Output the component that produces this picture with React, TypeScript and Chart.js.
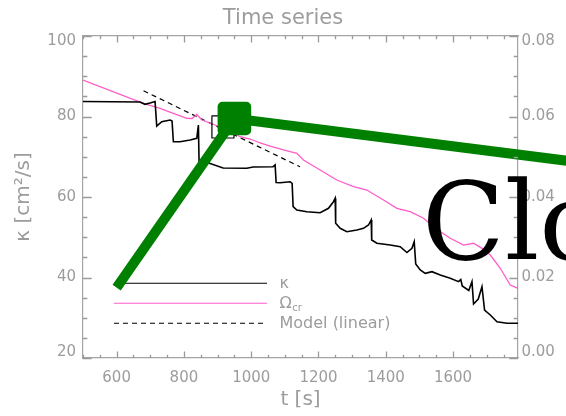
import { useEffect, useRef } from 'react';
import { Chart, registerables } from 'chart.js';

Chart.register(...registerables);

const FONT = 'DejaVu Sans';
const TEXT_GREY = '#9c9c9c';
const AXIS_GREY = '#a4a4a4';
const TICK_COLOR = '#9a9a9a';

// time axis range [s]
const TIME_MIN = 500;
const TIME_MAX = 1793;

// diffusivity kappa [cm^2/s] (left axis)
const kappaTime = [
  500, 669.5, 684.4, 699.3, 714.2, 719.2, 734.1, 758.8, 764.7, 768.6, 788.5, 818.3, 838.2, 843.0,
  845.0, 862.9, 916.4, 986.9, 1005.6, 1065.1, 1071.1, 1074.0, 1085.9, 1115.7, 1121.6, 1124.6,
  1135.6, 1165.4, 1204.9, 1229.6, 1244.5, 1249.6, 1251.0, 1264.4, 1284.3, 1314.1, 1333.7, 1348.6,
  1356.6, 1358.1, 1373.6, 1413.1, 1442.9, 1462.8, 1477.7, 1484.5, 1489.0, 1502.4, 1517.3, 1537.2,
  1561.9, 1591.6, 1616.3, 1622.9, 1627.3, 1646.7, 1656.2, 1660.9, 1674.9, 1685.9, 1693.6, 1710.6,
  1730.5, 1760.3, 1793.0,
];
const kappaValue = [
  83.73, 83.6, 83.03, 83.36, 83.73, 77.64, 78.71, 79.13, 78.88, 73.74, 73.74, 74.16, 74.58, 77.89,
  68.7, 68.77, 67.2, 67.13, 67.45, 67.53, 67.95, 63.6, 63.55, 63.8, 63.4, 57.59,
  56.77, 56.35, 56.1, 57.19, 58.83, 59.68, 53.47, 52.22, 51.38, 51.8, 52.22, 53.04,
  54.29, 49.32, 48.5, 48.08, 47.65, 46.21, 47.25, 48.89, 43.35, 41.86, 41.04, 41.44,
  40.62, 39.8, 38.96, 39.5, 37.89, 36.77, 38.96, 33.42, 34.66, 37.71, 31.93, 30.68,
  29.02, 28.62, 28.62,
];

// critical rotation rate Omega_cr (right axis)
const omegaTime = [
  500, 679.4, 729.0, 768.6, 808.4, 824.2, 838.2, 853.1, 892.6, 937.2, 967.0, 996.7, 1026.5,
  1056.2, 1095.8, 1115.7, 1135.6, 1155.3, 1204.9, 1254.6, 1304.0, 1343.8, 1393.2, 1433.1,
  1472.6, 1512.2, 1547.0, 1591.6, 1631.2, 1660.9, 1685.9, 1710.6, 1740.3, 1770.1, 1793.0,
];
const omegaValue = [
  0.06907, 0.06328, 0.06204, 0.0608, 0.05955, 0.0595, 0.0605, 0.05913, 0.05789, 0.0564, 0.05498,
  0.05441, 0.05342, 0.05267, 0.05168, 0.05125, 0.05086, 0.04919, 0.04671, 0.04422, 0.04256,
  0.04174, 0.03926, 0.03719, 0.03635, 0.03471, 0.03222, 0.02974, 0.02807, 0.0285, 0.02725,
  0.02559, 0.02229, 0.01814, 0.01732,
];

// linear model fit (left axis)
const modelTime = [680, 1145];
const modelValue = [86.4, 67.5];

// hollow square marker
const markerTime = [916];
const markerValue = [77.4];

// green path with its corner marker
const pathTime = [600, 950, 2100];
const pathValue = [37.5, 79.5, 67.3];
const pathMarkerRadius = [0, 16.7, 0];

// axis ticks
const X_MAJOR = 200;
const X_MINOR = 50;
const K_MIN = 20;
const K_MAX = 100;
const K_MAJOR = 20;
const K_MINOR = 5;
const W_MIN = 0;
const W_MAX = 0.08;
const W_MAJOR = 0.02;
const W_MINOR = 0.005;

const TITLE = 'Time series';
const X_TITLE = 't [s]';
const Y_TITLE = 'κ [cm²/s]';
const NOTE_TEXT = 'Close';

const pts = (xs: number[], ys: number[]) => xs.map((x, i) => ({ x, y: ys[i] }));

// Labels at the ends of a vertical axis are pulled inside the frame
function edgeLabel(label: string, value: number, min: number, max: number) {
  const eps = (max - min) * 1e-6;
  if (Math.abs(value - max) < eps) return ['', label];
  if (Math.abs(value - min) < eps) return [label, ''];
  return label;
}

// Inward-pointing major and minor tick marks on all four sides of the frame
function tickValues(min: number, max: number, minor: number, major: number) {
  const out: { v: number; major: boolean }[] = [];
  const ratio = Math.round(major / minor);
  const i0 = Math.ceil(min / minor - 1e-9);
  const i1 = Math.floor(max / minor + 1e-9);
  for (let i = i0; i <= i1; i++) out.push({ v: i * minor, major: i % ratio === 0 });
  return out;
}

const frameTicks = {
  id: 'frameTicks',
  afterDraw(chart: any) {
    const { ctx, chartArea: a, scales } = chart;
    ctx.save();
    ctx.strokeStyle = TICK_COLOR;
    ctx.lineWidth = 1.3;
    ctx.setLineDash([]);
    ctx.beginPath();
    const xs = scales.x;
    tickValues(TIME_MIN, TIME_MAX, X_MINOR, X_MAJOR).forEach(({ v, major }) => {
      const px = Math.round(xs.getPixelForValue(v)) + 0.5;
      const len = major ? 6.4 : 3.2;
      ctx.moveTo(px, a.bottom);
      ctx.lineTo(px, a.bottom - len);
      ctx.moveTo(px, a.top);
      ctx.lineTo(px, a.top + len);
    });
    const yl = scales.y;
    tickValues(K_MIN, K_MAX, K_MINOR, K_MAJOR).forEach(({ v, major }) => {
      const py = Math.round(yl.getPixelForValue(v)) + 0.5;
      ctx.moveTo(a.left, py);
      ctx.lineTo(a.left + (major ? 8.7 : 4.35), py);
    });
    const yr = scales.y2;
    tickValues(W_MIN, W_MAX, W_MINOR, W_MAJOR).forEach(({ v, major }) => {
      const py = Math.round(yr.getPixelForValue(v)) + 0.5;
      ctx.moveTo(a.right, py);
      ctx.lineTo(a.right - (major ? 8.7 : 4.35), py);
    });
    ctx.stroke();
    ctx.restore();
  },
};

const insetLegend = {
  id: 'insetLegend',
  beforeDatasetsDraw(chart: any) {
    const { ctx, chartArea } = chart;
    const x0 = chartArea.left + 31;
    const x1 = x0 + 153;
    let y = chartArea.bottom - 74.7;
    ctx.save();
    chart.data.datasets.forEach((ds: any) => {
      if (!ds.label) return;
      ctx.beginPath();
      ctx.strokeStyle = ds.borderColor;
      ctx.lineWidth = 1.1;
      ctx.setLineDash(ds.borderDash || []);
      ctx.moveTo(x0, y);
      ctx.lineTo(x1, y);
      ctx.stroke();
      ctx.setLineDash([]);
      const [main, sub] = String(ds.label).split('_');
      ctx.fillStyle = TEXT_GREY;
      ctx.textBaseline = 'alphabetic';
      ctx.textAlign = 'left';
      ctx.font = `16px "${FONT}"`;
      const tx = x1 + 12.5;
      ctx.fillText(main, tx, y + 4.5);
      if (sub) {
        const w = ctx.measureText(main).width;
        ctx.font = `10px "${FONT}"`;
        ctx.fillText(sub, tx + w + 0.5, y + 7.5);
      }
      y += 20;
    });
    ctx.restore();
    // rounded joins for the corner marker of the green path
    ctx.lineJoin = 'round';
  },
};

const noteText = {
  id: 'noteText',
  afterDraw(chart: any) {
    const { ctx } = chart;
    ctx.save();
    ctx.font = '108px "DejaVu Serif"';
    ctx.fillStyle = '#000000';
    ctx.textAlign = 'left';
    ctx.textBaseline = 'alphabetic';
    ctx.fillText(NOTE_TEXT, 422, 259);
    ctx.restore();
  },
};

const noGrid = { display: false, drawOnChartArea: false, drawTicks: false };

export default function App() {
  const canvasRef = useRef<HTMLCanvasElement | null>(null);

  useEffect(() => {
    const canvas = canvasRef.current;
    if (!canvas) return;
    const chart = new Chart(canvas, {
      type: 'line',
      data: {
        datasets: [
          {
            label: 'κ',
            data: pts(kappaTime, kappaValue),
            yAxisID: 'y',
            borderColor: '#000000',
            borderWidth: 1.6,
            pointRadius: 0,
            tension: 0,
            order: 2,
          },
          {
            label: 'Ω_cr',
            data: pts(omegaTime, omegaValue),
            yAxisID: 'y2',
            borderColor: '#ff5cc8',
            borderWidth: 1.3,
            pointRadius: 0,
            tension: 0,
            order: 3,
          },
          {
            label: 'Model (linear)',
            data: pts(modelTime, modelValue),
            yAxisID: 'y',
            borderColor: '#000000',
            borderWidth: 1.2,
            borderDash: [5, 4],
            pointRadius: 0,
            tension: 0,
            order: 4,
          },
          {
            data: pts(markerTime, markerValue),
            yAxisID: 'y',
            showLine: false,
            pointStyle: 'rect',
            pointRadius: 15.6,
            pointBorderWidth: 1.2,
            pointBorderColor: '#000000',
            pointBackgroundColor: 'rgba(0,0,0,0)',
            order: 1,
          },
          {
            data: pts(pathTime, pathValue),
            yAxisID: 'y',
            borderColor: '#008000',
            borderWidth: 10,
            pointStyle: 'rect',
            pointRadius: pathMarkerRadius,
            pointBorderWidth: 10,
            pointBorderColor: '#008000',
            pointBackgroundColor: '#008000',
            tension: 0,
            clip: false,
            order: 0,
          },
        ],
      },
      options: {
        responsive: false,
        animation: false,
        layout: { padding: 0 },
        plugins: {
          legend: { display: false },
          tooltip: { enabled: false },
          title: {
            display: true,
            text: TITLE,
            color: TEXT_GREY,
            font: { family: FONT, size: 21, weight: 'normal' },
            padding: { top: 6, bottom: 4.8 },
          },
        },
        scales: {
          x: {
            type: 'linear',
            position: 'bottom',
            min: TIME_MIN,
            max: TIME_MAX,
            grid: noGrid,
            border: { color: AXIS_GREY, width: 1.2 },
            ticks: {
              stepSize: X_MAJOR,
              includeBounds: false,
              autoSkip: false,
              maxRotation: 0,
              color: TEXT_GREY,
              font: { family: FONT, size: 15 },
              padding: 11.3,
              callback: (v: any) => String(v),
            },
            title: {
              display: true,
              text: X_TITLE,
              color: TEXT_GREY,
              font: { family: FONT, size: 20 },
              padding: { top: 0, bottom: 4 },
            },
            afterFit: (s: any) => {
              s.height = 58;
            },
          },
          xTop: {
            type: 'linear',
            position: 'top',
            min: TIME_MIN,
            max: TIME_MAX,
            grid: noGrid,
            border: { color: AXIS_GREY, width: 1.2 },
            ticks: { display: false },
            afterFit: (s: any) => {
              s.height = 0;
            },
          },
          y: {
            type: 'linear',
            position: 'left',
            min: K_MIN,
            max: K_MAX,
            grid: noGrid,
            border: { color: AXIS_GREY, width: 1.2 },
            ticks: {
              stepSize: K_MAJOR,
              autoSkip: false,
              color: TEXT_GREY,
              font: { family: FONT, size: 15, lineHeight: '11px' },
              padding: 7,
              callback: (v: any) => edgeLabel(String(v), Number(v), K_MIN, K_MAX),
            },
            title: {
              display: true,
              text: Y_TITLE,
              color: TEXT_GREY,
              font: { family: FONT, size: 20 },
              padding: { top: 12, bottom: 0 },
            },
            afterFit: (s: any) => {
              s.width = 83;
            },
          },
          y2: {
            type: 'linear',
            position: 'right',
            min: W_MIN,
            max: W_MAX,
            grid: noGrid,
            border: { color: AXIS_GREY, width: 1.2 },
            ticks: {
              stepSize: W_MAJOR,
              autoSkip: false,
              color: TEXT_GREY,
              font: { family: FONT, size: 15, lineHeight: '11px' },
              padding: 3.5,
              callback: (v: any) => edgeLabel(Number(v).toFixed(2), Number(v), W_MIN, W_MAX),
            },
            afterFit: (s: any) => {
              s.width = 48;
            },
          },
        },
      } as any,
      plugins: [frameTicks, insetLegend, noteText],
    });
    return () => chart.destroy();
  }, []);

  return (
    <div style={{ position: 'fixed', left: 0, top: 0, width: 566, height: 416, background: '#ffffff' }}>
      <canvas ref={canvasRef} width={566} height={416} style={{ display: 'block' }} />
    </div>
  );
}
